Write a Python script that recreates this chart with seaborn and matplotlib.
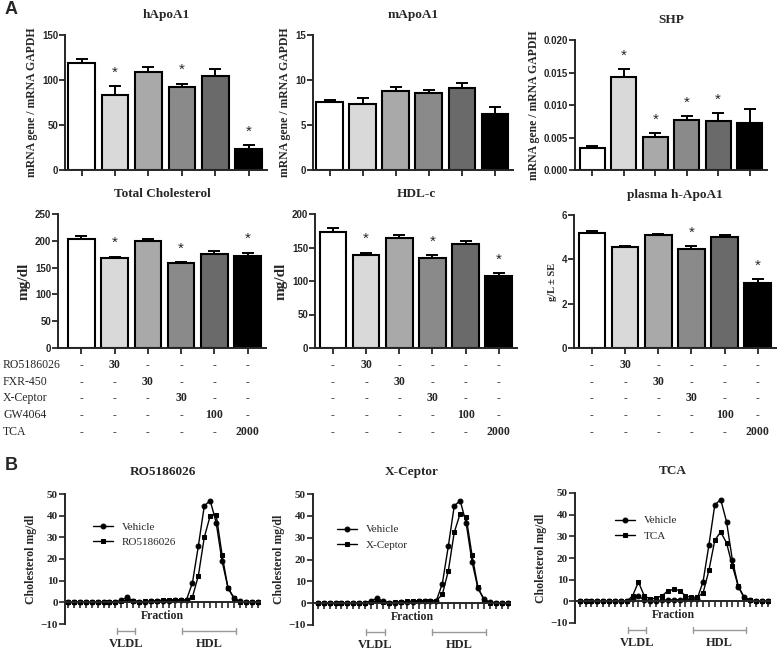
import numpy as np
import pandas as pd
import matplotlib
matplotlib.use("Agg")
import matplotlib.pyplot as plt
import matplotlib.transforms as mtransforms
import seaborn as sns

# ---- data -------------------------------------------------------------
groups = ["Vehicle", "RO5186026", "FXR-450", "X-Ceptor", "GW4064", "TCA"]
bar_colors = ["#ffffff", "#d9d9d9", "#a9a9a9", "#8a8a8a", "#6a6a6a", "#000000"]

hapoa1 = [118.5, 83.3, 109.0, 91.9, 104.4, 23.3]
hapoa1_err = [5.0, 10.0, 5.8, 4.0, 7.5, 4.5]
mapoa1 = [7.6, 7.3, 8.75, 8.6, 9.15, 6.2]
mapoa1_err = [0.2, 0.7, 0.45, 0.25, 0.55, 0.75]
shp = [0.00335, 0.01433, 0.00515, 0.00773, 0.00753, 0.00722]
shp_err = [0.0003, 0.0012, 0.00057, 0.0006, 0.0012, 0.0021]
total_chol = [203.5, 167.0, 199.0, 159.0, 176.3, 172.0]
total_chol_err = [6.0, 3.7, 4.5, 2.0, 5.5, 6.0]
hdl_c = [173.5, 139.5, 163.5, 135.0, 154.5, 107.0]
hdl_c_err = [5.0, 3.0, 5.0, 3.5, 5.0, 5.0]
plasma_apoa1 = [5.21, 4.55, 5.10, 4.48, 5.00, 2.95]
plasma_apoa1_err = [0.09, 0.07, 0.05, 0.12, 0.10, 0.17]

drugs = ["RO5186026", "FXR-450", "X-Ceptor", "GW4064", "TCA"]
doses = ["30", "30", "30", "100", "2000"]

fraction = list(range(33))
vehicle = [0, 0, 0, 0, 0, 0, 0, 0, 0, 1.0, 2.3, 0.8, 0.3, 0.3, 0.5, 0.6, 0.7,
           0.8, 0.9, 1.0, 1.2, 9.0, 26.0, 44.5, 47.0, 36.8, 19.0, 6.8, 2.0,
           0.4, 0.2, 0.1, 0]
ro5186026 = [0, 0, 0, 0, 0, 0, 0, 0, 0, 0.5, 1.0, 0.5, 0.3, 0.4, 0.6, 0.8, 1.0,
             1.2, 1.2, 1.2, 1.2, 2.4, 12.3, 30.0, 40.0, 40.5, 22.0, 6.5, 2.0,
             0.3, 0.2, 0.1, 0]
xceptor = [0, 0, 0, 0, 0, 0, 0, 0, 0, 0.5, 1.0, 0.5, 0.3, 0.4, 0.6, 0.8, 1.0,
           1.2, 1.2, 1.2, 1.2, 4.0, 14.7, 32.4, 41.0, 39.6, 22.0, 7.2, 1.5,
           0.3, 0.2, 0.1, 0]
tca = [0, 0, 0, 0, 0, 0, 0, 0, 0, 2.5, 8.9, 2.5, 1.0, 1.5, 2.5, 4.8, 5.5,
       5.0, 2.5, 1.8, 2.0, 3.8, 14.3, 28.2, 32.0, 27.0, 16.3, 7.0, 1.5,
       0.5, 0.2, 0.1, 0]

# ---- style ------------------------------------------------------------
sns.set_style("ticks")
SERIF = "Liberation Serif"
SANS = "Liberation Sans"
plt.rcParams["font.family"] = [SANS, "DejaVu Sans"]
plt.rcParams["axes.linewidth"] = 1.4

W, H = 777, 652
fig = plt.figure(figsize=(W / 100, H / 100), dpi=100)


def box(l, t, r, b):
    return [l / W, 1 - b / H, (r - l) / W, (b - t) / H]


def bar_panel(rect, vals, errs, title, ylabel, ymax, yticks, sig, xleft,
              ylab_size=8.5, fmt=None):
    ax = fig.add_axes(box(*rect))
    df = pd.DataFrame({"group": groups, "value": vals})
    sns.barplot(data=df, x="group", y="value", hue="group", palette=bar_colors,
                legend=False, edgecolor="k", linewidth=1.5, width=0.8, ax=ax)
    ax.errorbar(range(6), vals, yerr=[np.zeros(6), errs], fmt="none",
                ecolor="k", elinewidth=1.4, capsize=4, capthick=1.4)
    for i in sig:
        ax.text(i, vals[i] + errs[i] + 0.1 * ymax, "*", ha="center",
                va="center", fontsize=11, fontfamily=SANS)
    ax.set_xlim(xleft, 5.55)
    ax.set_ylim(0, ymax)
    ax.set_yticks(yticks)
    if fmt:
        ax.set_yticklabels([fmt.format(v) for v in yticks])
    ax.set_xticklabels([])
    ax.set_xlabel("")
    ax.set_ylabel(ylabel, fontfamily=SERIF, fontweight="bold",
                  fontsize=ylab_size, labelpad=3)
    ax.set_title(title, fontfamily=SERIF, fontweight="bold", fontsize=9.5,
                 pad=12)
    ax.tick_params(axis="both", direction="out", length=4, width=1.3,
                   labelsize=7, pad=1)
    for lab in ax.get_yticklabels():
        lab.set_fontweight("bold")
    sns.despine(ax=ax)
    return ax


bar_panel((65, 35, 267, 170), hapoa1, hapoa1_err, "hApoA1",
          "mRNA gene / mRNA GAPDH", 150, [0, 50, 100, 150], [1, 3, 5], -0.5)
bar_panel((313, 35, 513, 170), mapoa1, mapoa1_err, "mApoA1",
          "mRNA gene / mRNA GAPDH", 15, [0, 5, 10, 15], [], -0.5)
bar_panel((575, 40, 767, 170), shp, shp_err, "SHP",
          "mRNA gene / mRNA GAPDH", 0.020, [0, 0.005, 0.010, 0.015, 0.020],
          [1, 2, 3, 4], -0.55, fmt="{:.3f}")

row2 = []
row2.append(bar_panel((58, 214, 266, 348), total_chol, total_chol_err,
                      "Total Cholesterol", "mg/dl", 250,
                      [0, 50, 100, 150, 200, 250], [1, 3, 5], -0.7,
                      ylab_size=11))
row2.append(bar_panel((315, 214, 517, 348), hdl_c, hdl_c_err, "HDL-c",
                      "mg/dl", 200, [0, 50, 100, 150, 200], [1, 3, 5], -0.54,
                      ylab_size=11))
row2.append(bar_panel((574, 215, 776, 348), plasma_apoa1, plasma_apoa1_err,
                      "plasma h-ApoA1", "g/L ± SE", 6, [0, 2, 4, 6], [3, 5],
                      -0.54, ylab_size=7.5))

# treatment table under row 2
row_y = [365, 382, 398, 415, 432]
for r, name in enumerate(drugs):
    fig.text(3 / W, 1 - row_y[r] / H, name, ha="left", va="center",
             fontfamily=SERIF, fontsize=8.5)
    for ax in row2:
        tr = mtransforms.blended_transform_factory(ax.transData,
                                                   fig.transFigure)
        for c in range(6):
            txt = doses[r] if c == r + 1 else "-"
            ax.text(c, 1 - row_y[r] / H, txt, transform=tr, ha="center",
                    va="center", fontfamily=SERIF, fontweight="bold",
                    fontsize=8.5)


# ---- panel B ------------------------------------------------------------
def profile_panel(rect, treated, label, title, leg_anchor, xleft):
    ax = fig.add_axes(box(*rect))
    sns.lineplot(x=fraction, y=vehicle, ax=ax, color="k", marker="o",
                 markersize=3.5, markeredgecolor="k", linewidth=1.0,
                 label="Vehicle")
    sns.lineplot(x=fraction, y=treated, ax=ax, color="k", marker="s",
                 markersize=3.5, markeredgecolor="k", linewidth=1.0,
                 label=label)
    ax.set_ylim(-10, 50)
    ax.set_xlim(xleft, 32.4)
    ax.set_yticks([-10, 0, 10, 20, 30, 40, 50])
    ax.set_xticks(fraction)
    ax.set_xticklabels([])
    ax.spines["bottom"].set_position(("data", 0))
    sns.despine(ax=ax)
    ax.tick_params(axis="both", direction="out", length=4, width=1.2, pad=1)
    for lab in ax.get_yticklabels():
        lab.set_fontfamily(SERIF)
        lab.set_fontweight("bold")
        lab.set_fontsize(8)
    ax.set_xlabel("")
    ax.set_ylabel("Cholesterol mg/dl", fontfamily=SERIF, fontweight="bold",
                  fontsize=8.5, labelpad=3)
    ax.set_title(title, fontfamily=SERIF, fontweight="bold", fontsize=9.5,
                 pad=14)
    ax.text(16, -6.3, "Fraction", ha="center", va="center", fontfamily=SERIF,
            fontweight="bold", fontsize=8.5)
    for x0, x1, name in [(8.2, 11.3, "VLDL"), (19.3, 28.3, "HDL")]:
        ax.plot([x0, x1], [-13.3, -13.3], color="#999999", lw=1,
                clip_on=False)
        for xe in (x0, x1):
            ax.plot([xe, xe], [-11.8, -14.8], color="#999999", lw=1,
                    clip_on=False)
        ax.text((x0 + x1) / 2, -19.3, name, ha="center", va="center",
                fontfamily=SERIF, fontweight="bold", fontsize=9)
    ax.legend(loc="upper left", bbox_to_anchor=leg_anchor, frameon=False,
              handlelength=1.8, borderaxespad=0, labelspacing=0.5,
              prop={"family": SERIF, "size": 8})
    return ax


profile_panel((65, 494, 260, 624), ro5186026, "RO5186026", "RO5186026",
              (0.12, 0.82), -0.5)
profile_panel((313, 494, 510, 625), xceptor, "X-Ceptor", "X-Ceptor",
              (0.1, 0.8), -0.8)
profile_panel((575, 493, 770, 623), tca, "TCA", "TCA", (0.18, 0.86), -0.8)

fig.text(5 / W, 1 - 10 / H, "A", fontsize=13, fontweight="bold",
         fontfamily=SANS, va="center")
fig.text(5 / W, 1 - 465 / H, "B", fontsize=13, fontweight="bold",
         fontfamily=SANS, va="center")

fig.savefig("out.png", dpi=100)
